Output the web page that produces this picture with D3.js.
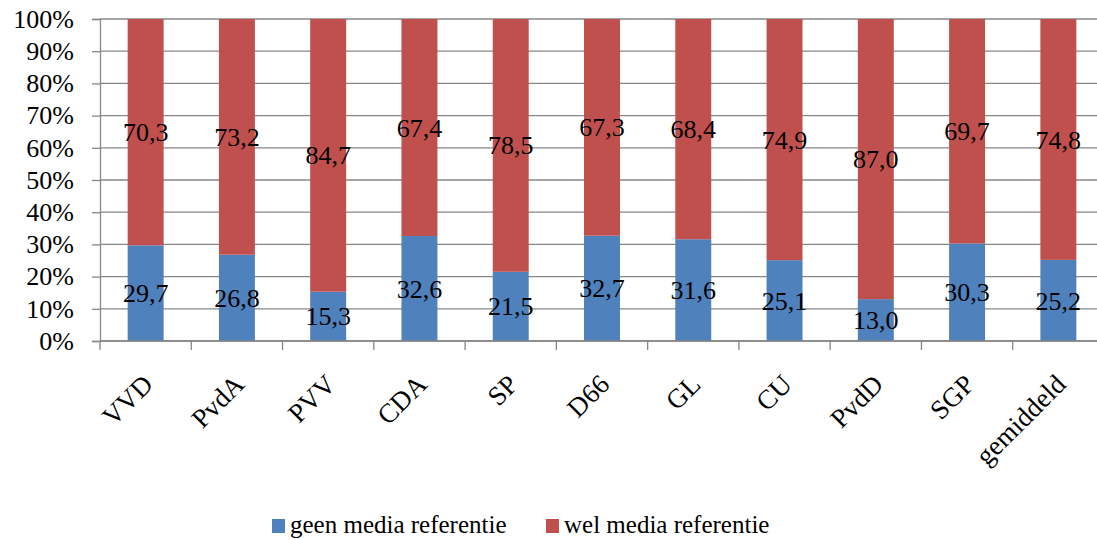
<!DOCTYPE html>
<html>
<head>
<meta charset="utf-8">
<script src="https://cdn.jsdelivr.net/npm/d3@7"></script>
<style>
  body { margin: 0; background: #fff; }
  svg text { font-family: "Liberation Serif", "DejaVu Serif", serif !important; }
</style>
</head>
<body>
<script>
const parties = ['VVD', 'PvdA', 'PVV', 'CDA', 'SP', 'D66', 'GL', 'CU', 'PvdD', 'SGP', 'gemiddeld'];
const geen = [29.7, 26.8, 15.3, 32.6, 21.5, 32.7, 31.6, 25.1, 13.0, 30.3, 25.2];
const wel = [70.3, 73.2, 84.7, 67.4, 78.5, 67.3, 68.4, 74.9, 87.0, 69.7, 74.8];
const seriesNames = ['geen media referentie', 'wel media referentie'];
const colors = ['#4F81BD', '#C0504D'];
const yTicks = [0, 10, 20, 30, 40, 50, 60, 70, 80, 90, 100];

const width = 1097;
const height = 540;
const grid = '#878787';

const svg = d3.select('body').append('svg')
  .attr('width', width)
  .attr('height', height);

const x = d3.scaleBand()
  .domain(parties)
  .range([100, 1104]);

const y = d3.scaleLinear()
  .domain([0, 100])
  .range([341, 19]);

// gridlines
svg.append('g')
  .selectAll('line')
  .data(yTicks)
  .enter()
  .append('line')
  .attr('x1', 100)
  .attr('x2', 1104)
  .attr('y1', d => y(d))
  .attr('y2', d => y(d))
  .attr('stroke', grid)
  .attr('stroke-width', 1.3);

// stacked data
const rows = parties.map((p, i) => ({ party: p, geen: geen[i], wel: wel[i] }));
const stack = d3.stack().keys(['geen', 'wel'])(rows);

const barW = x.bandwidth() * 0.394;

svg.append('g')
  .selectAll('g')
  .data(stack)
  .enter()
  .append('g')
  .attr('fill', (d, i) => colors[i])
  .selectAll('rect')
  .data(d => d)
  .enter()
  .append('rect')
  .attr('x', d => x(d.data.party) + x.bandwidth() / 2 - barW / 2)
  .attr('width', barW)
  .attr('y', d => y(d[1]))
  .attr('height', d => y(d[0]) - y(d[1]));

// value labels
stack.forEach(layer => {
  svg.append('g')
    .selectAll('text')
    .data(layer)
    .enter()
    .append('text')
    .attr('x', d => x(d.data.party) + x.bandwidth() / 2)
    .attr('y', d => y((d[0] + d[1]) / 2))
    .attr('dy', '0.35em')
    .attr('text-anchor', 'middle')
    .style('font-size', '26px')
    .attr('fill', '#000')
    .text(d => d3.format('.1f')(d[1] - d[0]).replace('.', ','));
});

// Y axis
const yAxis = svg.append('g')
  .attr('transform', 'translate(100,0)')
  .call(d3.axisLeft(y).tickValues(yTicks).tickSize(8).tickPadding(18).tickFormat(d => d + '%'));
yAxis.selectAll('line, path').attr('stroke', grid).attr('stroke-width', 1.3);
yAxis.selectAll('text').style('font-size', '26px').attr('fill', '#000');

// X axis
const xAxis = svg.append('g')
  .attr('transform', 'translate(0,341)');
xAxis.append('line')
  .attr('x1', 100).attr('x2', 1104)
  .attr('stroke', grid).attr('stroke-width', 1.3);
xAxis.selectAll('line.tick')
  .data(parties.concat(['__end']))
  .enter()
  .append('line')
  .attr('class', 'tick')
  .attr('x1', d => d === '__end' ? 1104 : x(d))
  .attr('x2', d => d === '__end' ? 1104 : x(d))
  .attr('y1', 0)
  .attr('y2', 9)
  .attr('stroke', grid).attr('stroke-width', 1.3);
xAxis.selectAll('text')
  .data(parties)
  .enter()
  .append('text')
  .attr('transform', d => `translate(${x(d) + x.bandwidth() / 2 + 9},${45}) rotate(-45)`)
  .attr('text-anchor', 'end')
  .style('font-size', '27px')
  .attr('fill', '#000')
  .text(d => d);

// legend
const legendX = [272, 546];
const legend = svg.append('g');
seriesNames.forEach((name, i) => {
  legend.append('rect')
    .attr('x', legendX[i]).attr('y', 519)
    .attr('width', 13).attr('height', 14)
    .attr('fill', colors[i]);
  legend.append('text')
    .attr('x', legendX[i] + 18).attr('y', 533)
    .style('font-size', '25px')
    .attr('fill', '#000')
    .text(name);
});
</script>
</body>
</html>
